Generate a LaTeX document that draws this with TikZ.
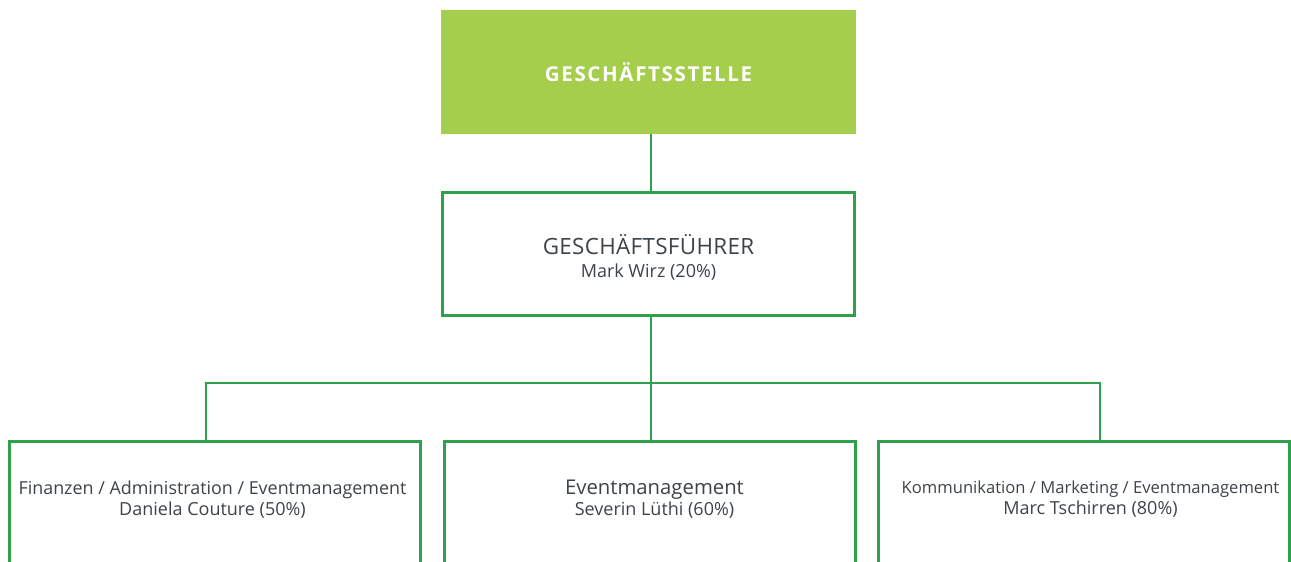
\documentclass[tikz,border=0pt]{standalone}
\usepackage{fontspec}
\setmainfont{Open Sans}
\newfontfamily\titlefont[LetterSpace=8]{Open Sans}
\newfontfamily\headfont[LetterSpace=1.5]{Open Sans}
\definecolor{boxgreen}{HTML}{A6CE4D}
\definecolor{linegreen}{HTML}{2FA04C}
\definecolor{txtgray}{HTML}{3C4349}
\tikzset{
  unitbox/.style={draw=linegreen, line width=2.8pt, minimum width=412pt, minimum height=123.5pt,
    inner sep=0pt, align=center, text=txtgray},
  teambox/.style={draw=linegreen, line width=2.8pt, minimum width=411.5pt, minimum height=200pt,
    anchor=north, inner sep=0pt},
  teamlbl/.style={anchor=center, yshift=-59pt, align=center, text=txtgray,
    font=\fontsize{18}{21}\selectfont},
  link/.style={draw=linegreen, line width=2.6pt},
}
\begin{document}
\begin{tikzpicture}[x=1pt,y=-1pt]
  \useasboundingbox (0,0) rectangle (1291,562);
  \clip (0,0) rectangle (1291,562);

  % top level
  \node[fill=boxgreen, minimum width=415pt, minimum height=124pt, inner sep=0pt, text=white,
    font=\titlefont\bfseries\fontsize{20.5}{21}\selectfont] (stelle) at (648.5,72) {GESCHÄFTSSTELLE};
  \node[unitbox, font=\fontsize{18}{23}\selectfont] (fuehrer) at (648.5,254)
    {\rule{0pt}{26pt}{\headfont\fontsize{22.4}{23}\selectfont GESCHÄFTSFÜHRER}\\
     Mark Wirz (20\%)};

  % teams
  \node[teambox, label={[teamlbl, xshift=-2.5pt]north:{\fontsize{17.9}{21}\selectfont Finanzen / Administration / Eventmanagement}\\Daniela Couture (50\%)}]
    (finanzen) at (215,440.3) {};
  \node[teambox, label={[teamlbl, xshift=4.5pt]north:{\fontsize{20.3}{21}\selectfont Eventmanagement}\\Severin Lüthi (60\%)}]
    (event) at (650,440.3) {};
  \node[teambox, label={[teamlbl, xshift=6.5pt]north:{\fontsize{16.6}{21}\selectfont Kommunikation / Marketing / Eventmanagement}\\Marc Tschirren (80\%)}]
    (kommunikation) at (1084,440.3) {};

  % connectors
  \coordinate (spine) at (651,383);
  \coordinate (barL) at (206,383);
  \coordinate (barR) at (1100,383);
  \draw[link] (stelle.south -| spine) -- (fuehrer.north -| spine);
  \draw[link] (fuehrer.south -| spine) -- (event.north -| spine);
  \draw[link] (finanzen.north -| barL) -- (barL) -- (barR) -- (kommunikation.north -| barR);
\end{tikzpicture}
\end{document}
